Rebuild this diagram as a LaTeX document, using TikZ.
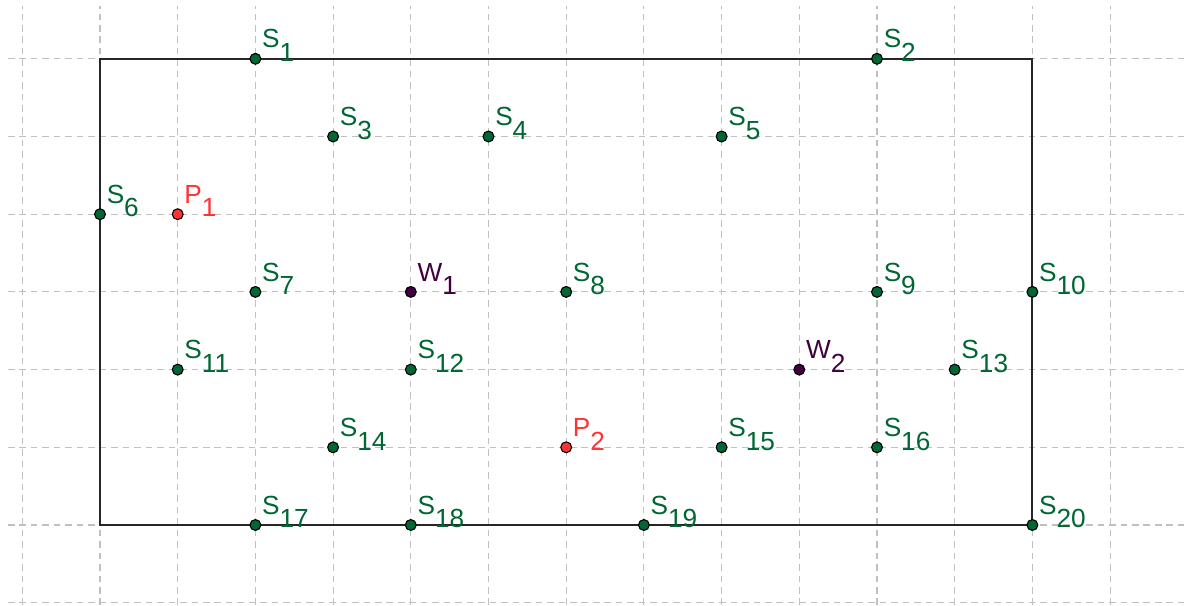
\documentclass[tikz,border=0pt]{standalone}
\usepackage{fontspec}
\setmainfont{Liberation Sans}
\usepackage{xcolor}
\usetikzlibrary{calc}
\definecolor{ptgreen}{RGB}{0,102,51}
\definecolor{ptred}{RGB}{255,51,51}
\definecolor{ptpurple}{RGB}{64,0,64}
\definecolor{gridgray}{RGB}{192,192,192}

\begin{document}
\begin{tikzpicture}[
  gridline/.style={draw=gridgray,line width=0.4pt,dash pattern=on 2.4pt off 1.8pt},
  border/.style={draw=black!85,line width=0.7pt},
  dot/.style={circle,draw=black,line width=0.4pt,inner sep=0pt,minimum size=0.14cm},
  lbl/.style={anchor=base west,inner sep=0pt,font=\fontsize{9.6}{11}\selectfont}]
\useasboundingbox (-1.287,-1.030) rectangle (13.977,6.757);
% grid
\foreach \gx in {-1,...,13}
  \draw[gridline] (\gx,-1.030) -- (\gx,6.68);
\foreach \gy in {-1,...,6}
  \draw[gridline] (-1.184,\gy) -- (13.977,\gy);
% field boundary
\coordinate (ll) at (0,0);
\coordinate (ur) at (12,6);
\draw[border] (ll) rectangle (ur);
% sensors
\foreach \n/\x/\y in {1/2/6,2/10/6,3/3/5,4/5/5,5/8/5,6/0/4,7/2/3,8/6/3,9/10/3,10/12/3,
    11/1/2,12/4/2,13/11/2,14/3/1,15/8/1,16/10/1,17/2/0,18/4/0,19/7/0,20/12/0}{
  \node[dot,fill=ptgreen] (S\n) at (\x,\y) {};
  \node[lbl,text=ptgreen] (S\n-lab) at ([shift={(0.08,0.14)}]S\n.center) {S\raisebox{-5pt}{\n}};
}
% points P
\foreach \n/\x/\y in {1/1/4,2/6/1}{
  \node[dot,fill=ptred] (P\n) at (\x,\y) {};
  \node[lbl,text=ptred] (P\n-lab) at ([shift={(0.08,0.14)}]P\n.center) {P\raisebox{-5pt}{\n}};
}
% points W
\foreach \n/\x/\y in {1/4/3,2/9/2}{
  \node[dot,fill=ptpurple] (W\n) at (\x,\y) {};
  \node[lbl,text=ptpurple] (W\n-lab) at ([shift={(0.08,0.14)}]W\n.center) {W\raisebox{-5pt}{\n}};
}
\end{tikzpicture}
\end{document}
